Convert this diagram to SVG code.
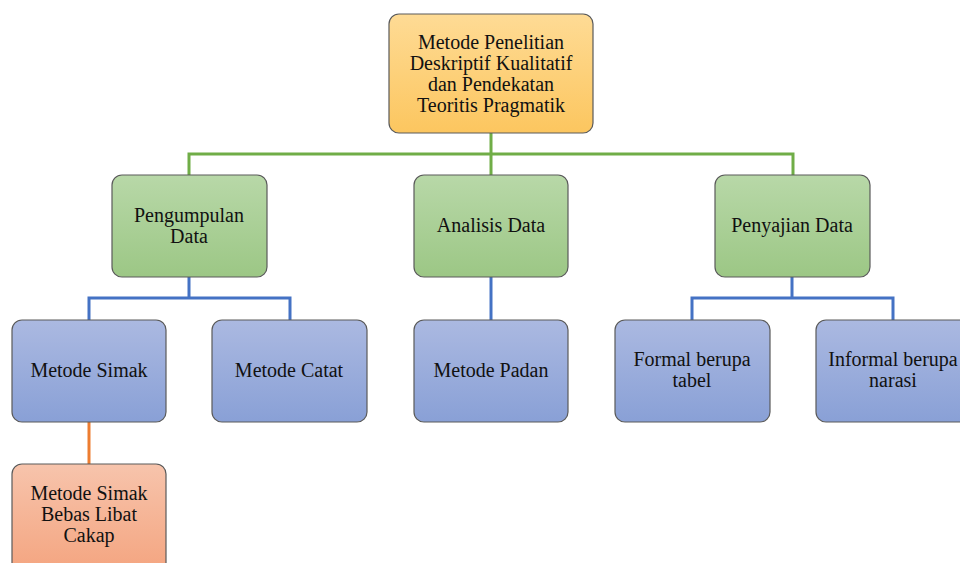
<svg xmlns="http://www.w3.org/2000/svg" width="960" height="563" viewBox="0 0 960 563">
<defs>
<linearGradient id="gOr" x1="0" y1="0" x2="0" y2="1"><stop offset="0" stop-color="#fedb95"/><stop offset="1" stop-color="#fcc65f"/></linearGradient>
<linearGradient id="gGr" x1="0" y1="0" x2="0" y2="1"><stop offset="0" stop-color="#b8d8a8"/><stop offset="1" stop-color="#9cc785"/></linearGradient>
<linearGradient id="gBl" x1="0" y1="0" x2="0" y2="1"><stop offset="0" stop-color="#abb9e1"/><stop offset="1" stop-color="#89a0d6"/></linearGradient>
<linearGradient id="gSa" x1="0" y1="0" x2="0" y2="1"><stop offset="0" stop-color="#f7c4ac"/><stop offset="1" stop-color="#f4a47f"/></linearGradient>
</defs>
<style>
.n{stroke:#5a5a5a;stroke-width:1.2}
text{font-family:"Liberation Serif","DejaVu Serif",serif;font-size:20px;fill:#111;text-anchor:middle}
.cg{stroke:#70ad47;stroke-width:3;fill:none}
.cb{stroke:#4472c4;stroke-width:3;fill:none}
.co{stroke:#ed7d31;stroke-width:3;fill:none}
</style>
<rect width="960" height="563" fill="#fff"/>
<g id="connectors">
<path class="cg" d="M491 133V154M189 175V154H793V175M491 154V175"/>
<path class="cb" d="M189 277V298M89 320V298H290V320"/>
<path class="cb" d="M491 277V320"/>
<path class="cb" d="M792 277V298M692 320V298H893V320"/>
<path class="co" d="M89 422V464"/>
</g>
<g id="root"><rect class="n" x="389" y="14" width="204" height="119" rx="10" fill="url(#gOr)"/>
<text x="491" y="49">Metode Penelitian</text><text x="491" y="70">Deskriptif Kualitatif</text><text x="491" y="91">dan Pendekatan</text><text x="491" y="112">Teoritis Pragmatik</text></g>
<g id="pengumpulan"><rect class="n" x="112" y="175" width="155" height="102" rx="10" fill="url(#gGr)"/>
<text x="189" y="222">Pengumpulan</text><text x="189" y="243">Data</text></g>
<g id="analisis"><rect class="n" x="414" y="175" width="154" height="102" rx="10" fill="url(#gGr)"/>
<text x="491" y="232">Analisis Data</text></g>
<g id="penyajian"><rect class="n" x="715" y="175" width="155" height="102" rx="10" fill="url(#gGr)"/>
<text x="792" y="232">Penyajian Data</text></g>
<g id="simak"><rect class="n" x="12" y="320" width="154" height="102" rx="10" fill="url(#gBl)"/>
<text x="89" y="377">Metode Simak</text></g>
<g id="catat"><rect class="n" x="212" y="320" width="155" height="102" rx="10" fill="url(#gBl)"/>
<text x="289" y="377">Metode Catat</text></g>
<g id="padan"><rect class="n" x="414" y="320" width="154" height="102" rx="10" fill="url(#gBl)"/>
<text x="491" y="377">Metode Padan</text></g>
<g id="formal"><rect class="n" x="615" y="320" width="155" height="102" rx="10" fill="url(#gBl)"/>
<text x="692" y="366">Formal berupa</text><text x="692" y="387">tabel</text></g>
<g id="informal"><rect class="n" x="816" y="320" width="155" height="102" rx="10" fill="url(#gBl)"/>
<text x="893" y="366">Informal berupa</text><text x="893" y="387">narasi</text></g>
<g id="bebas"><rect class="n" x="12" y="464" width="154" height="110" rx="10" fill="url(#gSa)"/>
<text x="89" y="500">Metode Simak</text><text x="89" y="521">Bebas Libat</text><text x="89" y="542">Cakap</text></g>
</svg>
